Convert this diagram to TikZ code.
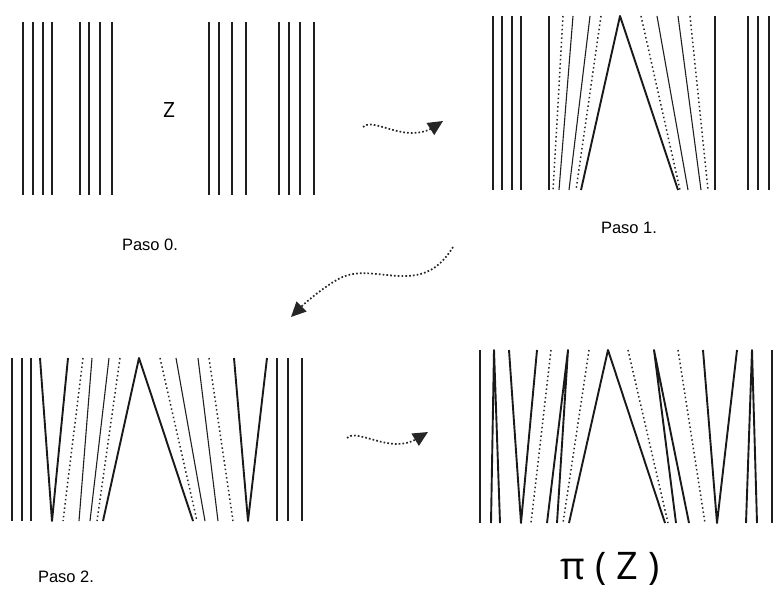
\documentclass[tikz,border=0pt]{standalone}
\usepackage{fontspec}
\setmainfont{Liberation Sans}
\newfontfamily\bigsans{Open Sans}
\usetikzlibrary{arrows.meta}
\tikzset{
  thinln/.style={line width=1.1pt, color=black!88},
  thickln/.style={line width=1.9pt, color=black!90, line join=round},
  dotln/.style={line width=1.5pt, color=black!85, dash pattern=on 1.5pt off 2.8pt},
  wavearrow/.style={line width=1.7pt, color=black!85, dash pattern=on 1.7pt off 2.1pt,
    -{Triangle[length=15pt,width=14pt]}},
  lbl/.style={inner sep=0pt, font=\fontsize{16.5}{19}\selectfont},
}
\begin{document}
\begin{tikzpicture}[x=1pt,y=-1pt]
\useasboundingbox (0,0) rectangle (775,588);
% ---------------- Paso 0 ----------------
\foreach \x in {23,33,43,52,80,89,100,112,209,219,232,246,279,289,300,314}
  \draw[thinln] (\x,22) -- (\x,195);
\node[inner sep=0pt, font=\bigsans\fontsize{21}{24}\selectfont] (z) at (169,110) {Z};
\node[lbl] (p0) at (150,245) {Paso 0.};
% ---------------- Paso 1 ----------------
\def\ta{16}\def\tb{190}
\foreach \x in {493,502,512,521,549,715,748,758,769}
  \draw[thinln] (\x,\ta) -- (\x,\tb);
\foreach \a/\b in {563/553,601/576,641/680,690/708}
  \draw[dotln] (\a,\ta) -- (\b,\tb);
\foreach \a/\b in {573/559,590/569,657/688,678/701}
  \draw[thinln] (\a,\ta) -- (\b,\tb);
\draw[thickln] (581,\tb) -- (620,\ta) -- (678,\tb);
\node[lbl] (p1) at (629,228) {Paso 1.};
% ---------------- Paso 2 ----------------
\def\ua{358}\def\ub{521}
\foreach \x in {12,22,31,277,288,302}
  \draw[thinln] (\x,\ua) -- (\x,\ub);
\foreach \a/\b in {83/63,120/97,160/197,209/233}
  \draw[dotln] (\a,\ua) -- (\b,\ub);
\foreach \a/\b in {92/79,109/90,176/205,198/218}
  \draw[thinln] (\a,\ua) -- (\b,\ub);
\draw[thickln] (40,\ua) -- (52,\ub) -- (68,\ua);
\draw[thickln] (103,\ub) -- (139,\ua) -- (193,\ub);
\draw[thickln] (234,\ua) -- (248,\ub) -- (267,\ua);
\node[lbl] (p2) at (66,577) {Paso 2.};
% ---------------- pi(Z) ----------------
\def\va{350}\def\vb{523}
\foreach \x in {480,772}
  \draw[thinln] (\x,\va) -- (\x,\vb);
\foreach \a/\b in {551/531,589/563,628/668,678/705}
  \draw[dotln] (\a,\va) -- (\b,\vb);
\draw[thickln] (491,\vb) -- (494,\va) -- (500,\vb);
\draw[thickln] (509,\va) -- (521,\vb) -- (537,\va);
\draw[thickln] (547,\vb) -- (568,\va) -- (557,\vb);
\draw[thickln] (569,\vb) -- (608,\va) -- (665,\vb);
\draw[thickln] (676,\vb) -- (654,\va) -- (689,\vb);
\draw[thickln] (703,\va) -- (717,\vb) -- (737,\va);
\draw[thickln] (746,\vb) -- (752,\va) -- (757,\vb);
\node[inner sep=0pt, anchor=base, font=\bigsans\fontsize{38}{44}\selectfont] (piz) at (610,579) {π ( Z )};
% ---------------- arrows ----------------
\coordinate (a1s) at (363,127);
\coordinate (a1e) at (443,121);
\draw[wavearrow] (a1s) .. controls (370,119) and (392,133) .. (412,133)
  .. controls (425,133) and (432,128) .. (a1e);
\coordinate (a2s) at (453,247);
\coordinate (a2e) at (291,317);
\draw[wavearrow] (a2s) .. controls (440,268) and (425,277) .. (400,276)
  .. controls (375,275) and (355,268) .. (335,281)
  .. controls (320,290) and (305,303) .. (a2e);
\coordinate (a3s) at (347,438);
\coordinate (a3e) at (428,432);
\draw[wavearrow] (a3s) .. controls (354,430) and (377,444) .. (397,444)
  .. controls (410,444) and (418,438) .. (a3e);
\end{tikzpicture}
\end{document}
